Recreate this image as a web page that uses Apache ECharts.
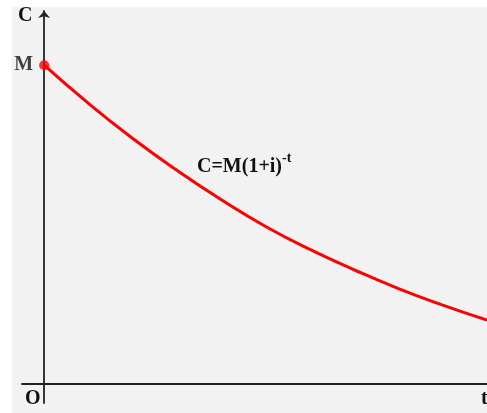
<!DOCTYPE html>
<html>
<head>
<meta charset="utf-8">
<script src="https://cdn.jsdelivr.net/npm/echarts@6/dist/echarts.min.js"></script>
<style>
  html, body { margin: 0; padding: 0; background: #fff; }
  #main { width: 487px; height: 413px; }
</style>
</head>
<body>
<div id="main"></div>
<script>
// time t (abstract units) and value C (M = 100)
var tValues = [0, 1, 2, 3, 4, 5, 6, 7, 8, 9, 10]
var cValues = [100, 88, 77, 67, 57.8, 49.4, 42.2, 35.8, 29.9, 24.7, 20]

var chart = echarts.init(document.getElementById('main'))
var serif = '"Liberation Serif", "DejaVu Serif", serif'

var points = tValues.map(function (t, i) { return [t, cValues[i]] })

chart.setOption({
  backgroundColor: '#ffffff',
  animation: false,
  grid: { left: 22, right: 0, top: 11, bottom: 10 },
  xAxis: {
    type: 'value',
    min: -0.5,
    max: 10,
    axisLine: {
      onZero: true,
      lineStyle: { color: '#222', width: 1.8 }
    },
    axisTick: { show: false },
    axisLabel: { show: false },
    splitLine: { show: false }
  },
  yAxis: {
    type: 'value',
    min: -6,
    max: 117,
    axisLine: {
      show: true,
      onZero: true,
      lineStyle: { color: '#222', width: 1.8 },
      symbol: ['none', 'arrow'],
      symbolSize: [9, 7]
    },
    axisTick: { show: false },
    axisLabel: { show: false },
    splitLine: { show: false }
  },
  graphic: [
    {
      type: 'rect', z: -10, silent: true,
      shape: { x: 12, y: 7, width: 475, height: 406 },
      style: { fill: '#f2f2f2' }
    },
    {
      type: 'text', left: 18, top: 6,
      style: { text: 'C', font: 'bold 20px ' + serif, fill: '#111' }
    },
    {
      type: 'text', left: 25, top: 389,
      style: { text: 'O', font: 'bold 20px ' + serif, fill: '#111' }
    },
    {
      type: 'text', left: 481, top: 389,
      style: { text: 't', font: 'bold 20px ' + serif, fill: '#111' }
    },
    {
      type: 'text', left: 197, top: 151,
      style: {
        text: '{b|C=M(1+i)}{s|-t}',
        rich: {
          b: { font: 'bold 20px ' + serif, fill: '#111', verticalAlign: 'bottom' },
          s: { font: 'bold 14px ' + serif, fill: '#111', verticalAlign: 'top', padding: [0, 0, 12, 0] }
        }
      }
    }
  ],
  series: [
    {
      type: 'line',
      data: points,
      smooth: true,
      symbol: 'none',
      lineStyle: { color: '#ff0000', width: 3 },
      z: 3
    },
    {
      type: 'scatter',
      data: [points[0]],
      symbolSize: 10,
      itemStyle: { color: '#ff0000' },
      label: {
        show: true,
        position: 'left',
        distance: 6,
        formatter: 'M',
        fontFamily: serif,
        fontWeight: 'bold',
        fontSize: 20,
        color: '#111'
      },
      z: 4
    }
  ]
})
</script>
</body>
</html>
